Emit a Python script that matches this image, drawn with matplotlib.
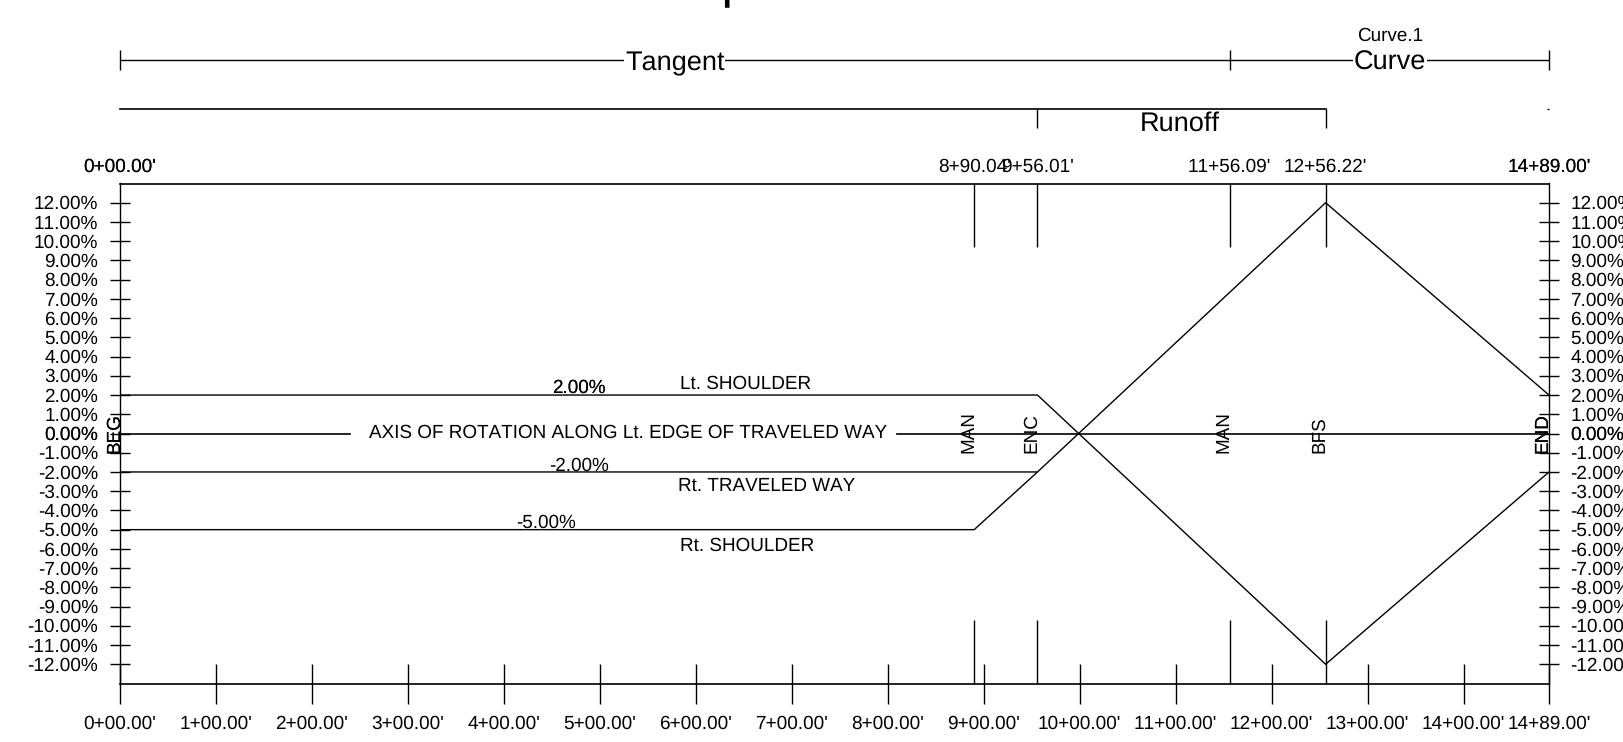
import matplotlib

matplotlib.use("Agg")
import matplotlib.pyplot as plt

plt.rcParams["font.family"] = ["Liberation Sans", "DejaVu Sans"]
plt.rcParams["text.hinting"] = "no_hinting"
plt.rcParams["text.kerning_factor"] = 6

# 路線データ (station in feet, cross slope in %)
lt_shoulder_x = [0, 956.01, 1256.22, 1489]
lt_shoulder_y = [2, 2, -12, -2]
rt_way_x = [0, 956.01, 1256.22, 1489]
rt_way_y = [-2, -2, 12, 2]
rt_shoulder_x = [0, 890.04, 956.01]
rt_shoulder_y = [-5, -5, -2]

y_ticks = list(range(12, -13, -1))
x_ticks = list(range(0, 1500, 100)) + [1489]
x_tick_labels = [f"{s // 100}+{s % 100:02d}.00'" for s in x_ticks]

key_stations = [890.04, 956.01, 1156.09, 1256.22]
key_labels = ["8+90.04'", "9+56.01'", "11+56.09'", "12+56.22'"]
key_names = ["MAN", "ENC", "MAN", "BFS"]

W, H = 1623, 742
fig = plt.figure(figsize=(W / 100, H / 100), dpi=100)
ax = fig.add_axes([120 / W, 1 - 683.5 / H, 1429 / W, 500 / H])
ax.set_xlim(0, 1489)
ax.set_ylim(-13, 13)
ax.set_xticks([])
ax.set_yticks([])
for sp in ax.spines.values():
    sp.set_linewidth(1.2)
ax.spines["left"].set_linewidth(1.0)
ax.spines["right"].set_linewidth(1.0)

LINE = dict(color="black", lw=1.0, clip_on=False, solid_capstyle="butt")
FS = 13.6
TICK_FS = 13.7
BIG = 19.5


def txt(x, y, s, size=FS, **kw):
    kw.setdefault("ha", "center")
    kw.setdefault("va", "center")
    return ax.text(x, y, s, fontsize=size, clip_on=False, **kw)


# 片勾配の線
ax.plot(lt_shoulder_x, lt_shoulder_y, **LINE)
ax.plot(rt_way_x, rt_way_y, **LINE)
ax.plot(rt_shoulder_x, rt_shoulder_y, **LINE)
ax.plot([0, 240], [0, 0], color="black", lw=1.2, zorder=2)
ax.plot([810, 1489], [0, 0], color="black", lw=1.2, zorder=2)

# y ticks on both sides
for v in y_ticks:
    ax.plot([-10.4, 10.4], [v, v], **LINE)
    ax.plot([1478.6, 1499.4], [v, v], **LINE)
    txt(-23, v - 0.08, f"{v:.2f}%", size=TICK_FS, ha="right")
    txt(1511, v - 0.08, f"{v:.2f}%", size=TICK_FS, ha="left")
txt(-23, -0.08, "0.00%", size=TICK_FS, ha="right")
txt(1511, -0.08, "0.00%", size=TICK_FS, ha="left")

# bottom station ticks
for s, lab in zip(x_ticks, x_tick_labels):
    ax.plot([s, s], [-14.04, -11.96], **LINE)
    txt(s, -15.12, lab, size=TICK_FS)

# key stations
for s, lab, name in zip(key_stations, key_labels, key_names):
    ax.plot([s, s], [-13, -9.7], **LINE)
    ax.plot([s, s], [9.7, 13], **LINE)
    txt(s, 13.87, lab, size=TICK_FS)
    txt(s + 3, -1.0, name, rotation=90, ha="right", va="bottom", zorder=5)

for s, lab, name in [(0, "0+00.00'", "BEG"), (1489, "14+89.00'", "END")]:
    for _ in range(2):
        txt(s, 13.87, lab, size=TICK_FS)
        txt(s + 3, -1.0, name, rotation=90, ha="right", va="bottom", zorder=5)

# 区間の帯
ax.plot([0, 1489], [19.4, 19.4], **LINE)
for s in [0, 1156.09, 1489]:
    ax.plot([s, s], [18.88, 19.92], **LINE)
white = dict(facecolor="white", edgecolor="none", pad=0.5)
txt(578, 19.27, "Tangent", size=BIG, bbox=white)
txt(1323, 19.27, "Curve", size=BIG, bbox=white)
txt(1323, 20.65, "Curve.1")

ax.plot([0, 1256.22], [16.88, 16.88], color="black", lw=1.2, clip_on=False)
ax.plot([956.01, 956.01], [15.9, 16.88], **LINE)
ax.plot([1256.22, 1256.22], [15.9, 16.88], **LINE)
ax.plot([1487, 1489], [16.88, 16.88], **LINE)
txt(1104.5, 16.1, "Runoff", size=BIG)

# 注記
txt(529, 0.03, "AXIS OF ROTATION ALONG Lt. EDGE OF TRAVELED WAY", zorder=4)
txt(652, 2.6, "Lt. SHOULDER")
for _ in range(2):
    txt(478, 2.35, "2.00%")
txt(478, -1.7, "-2.00%")
txt(444, -4.67, "-5.00%")
txt(674, -2.75, "Rt. TRAVELED WAY")
txt(653, -5.85, "Rt. SHOULDER")

# title is cut off by the top edge in the source, only the p descender shows
fig.text(831.5 / W, 1 + 3 / H, "Superelevation", fontsize=37.4, ha="center", va="baseline")

fig.savefig("out.png", dpi=100)
